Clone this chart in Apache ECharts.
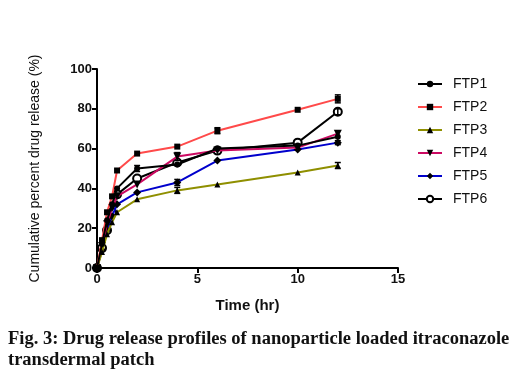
<!DOCTYPE html>
<html>
<head>
<meta charset="utf-8">
<script src="https://cdn.jsdelivr.net/npm/echarts@6/dist/echarts.min.js"></script>
<style>
html,body{margin:0;padding:0;background:#fff;}
#c{width:520px;height:382px;}
</style>
</head>
<body>
<div id="c"></div>
<script>
var times = [0, 0.25, 0.5, 0.75, 1, 2, 4, 6, 10, 12];
var seriesNames = ['FTP1', 'FTP2', 'FTP3', 'FTP4', 'FTP5', 'FTP6'];
var ftp1 = [0, 12, 24, 32, 40, 50, 52, 60, 61.5, 66];
var ftp2 = [0, 14, 28, 36, 49, 57.5, 61, 69, 79.5, 85];
var ftp3 = [0, 8, 17, 23, 28, 34.5, 39, 42, 48, 51.5];
var ftp4 = [0, 11, 22, 30, 36, 42, 56, 59, 60.5, 67.5];
var ftp5 = [0, 9, 19, 26, 32, 38, 43, 54, 59.5, 63];
var ftp6 = [0, 10, 19, 28, 37, 45, 53, 59, 63, 78.5];
var ftp1Err = [0, 0, 0, 0, 0, 1.5, 0, 0, 0, 0];
var ftp2Err = [0, 0, 0, 0, 0, 0, 0, 1.5, 0, 2];
var ftp3Err = [0, 0, 0, 0, 0, 0, 1.5, 0, 0, 1.5];
var ftp4Err = [0, 0, 0, 0, 0, 0, 2, 0, 0, 0];
var ftp5Err = [0, 0, 0, 0, 0, 0, 1.5, 0, 0, 1];
var ftp6Err = [0, 0, 0, 0, 0, 0, 0, 0, 0, 1.5];
var xTicks = [0, 5, 10, 15];
var yTicks = [0, 20, 40, 60, 80, 100];
var captionLines = ['Fig. 3: Drug release profiles of nanoparticle loaded itraconazole', 'transdermal patch'];

var values = [ftp1, ftp2, ftp3, ftp4, ftp5, ftp6];
var errors = [ftp1Err, ftp2Err, ftp3Err, ftp4Err, ftp5Err, ftp6Err];
var lineColors = ['#000000', '#ff4a4a', '#8f8f00', '#cc0a62', '#0000cc', '#000000'];
var symbols = ['circle', 'rect', 'triangle', 'path://M0,0 L10,0 L5,10 Z', 'diamond', 'circle'];
var symbolSizes = [6, 6, 6, 8, 8, 8];

function pairs(arr) {
  return times.map(function (t, i) { return [t, arr[i]]; });
}

var series = seriesNames.map(function (name, i) {
  return {
    name: name,
    type: 'line',
    data: pairs(values[i]),
    symbol: symbols[i],
    symbolSize: symbolSizes[i],
    showAllSymbol: true,
    lineStyle: { color: lineColors[i], width: 2 },
    itemStyle: { color: i === 5 ? '#ffffff' : '#000000', borderColor: '#000000', borderWidth: i === 5 ? 2 : 0 },
    emphasis: { disabled: true },
    animation: false,
    z: 10 - i
  };
});

seriesNames.forEach(function (name, i) {
  var d = [];
  times.forEach(function (t, k) {
    if (errors[i][k] > 0) d.push([t, values[i][k], errors[i][k]]);
  });
  series.push({
    type: 'custom',
    name: name + ' err',
    data: d,
    z: 20,
    silent: true,
    animation: false,
    renderItem: function (params, api) {
      var x = api.value(0), y = api.value(1), e = api.value(2);
      var top = api.coord([x, y + e]);
      var bot = api.coord([x, y - e]);
      var hw = 3;
      var st = { stroke: '#000', lineWidth: 1.5 };
      return {
        type: 'group',
        children: [
          { type: 'line', shape: { x1: top[0], y1: top[1], x2: bot[0], y2: bot[1] }, style: st },
          { type: 'line', shape: { x1: top[0] - hw, y1: top[1], x2: top[0] + hw, y2: top[1] }, style: st },
          { type: 'line', shape: { x1: bot[0] - hw, y1: bot[1], x2: bot[0] + hw, y2: bot[1] }, style: st }
        ]
      };
    }
  });
});

var chart = echarts.init(document.getElementById('c'), null, { renderer: 'canvas' });
chart.setOption({
  backgroundColor: '#ffffff',
  animation: false,
  textStyle: { fontFamily: 'Liberation Sans, Arial, sans-serif' },
  grid: { left: 97, right: 122, top: 69, bottom: 114 },
  legend: {
    orient: 'vertical',
    left: 412,
    top: 72,
    itemWidth: 24,
    itemHeight: 8,
    itemGap: 9,
    data: seriesNames,
    textStyle: { fontSize: 14, color: '#111', padding: [0, 0, 0, 6], fontFamily: 'Liberation Sans, Arial, sans-serif' }
  },
  xAxis: {
    type: 'value',
    min: xTicks[0],
    max: xTicks[xTicks.length - 1],
    interval: 5,
    name: 'Time (hr)',
    nameLocation: 'middle',
    nameGap: 30,
    nameTextStyle: { fontSize: 15, fontWeight: 'bold', color: '#111' },
    axisLine: { lineStyle: { color: '#000', width: 2 } },
    axisTick: { length: 5, lineStyle: { color: '#000', width: 2 } },
    axisLabel: { fontSize: 13, fontWeight: 'bold', color: '#111', margin: 5 },
    splitLine: { show: false }
  },
  yAxis: {
    type: 'value',
    min: yTicks[0],
    max: yTicks[yTicks.length - 1],
    interval: 20,
    name: 'Cumulative percent drug release (%)',
    nameLocation: 'middle',
    nameGap: 55,
    nameTextStyle: { fontSize: 14, color: '#111' },
    axisLine: { lineStyle: { color: '#000', width: 2 } },
    axisTick: { length: 5, lineStyle: { color: '#000', width: 2 } },
    axisLabel: { fontSize: 13, fontWeight: 'bold', color: '#111', margin: 5 },
    splitLine: { show: false }
  },
  graphic: captionLines.map(function (line, i) {
    return {
      type: 'text',
      left: 8,
      top: 330 + i * 21,
      style: {
        text: line,
        font: 'bold 18.5px "Liberation Serif", "Times New Roman", serif',
        fill: '#111'
      }
    };
  }),
  series: series
});
</script>
</body>
</html>
